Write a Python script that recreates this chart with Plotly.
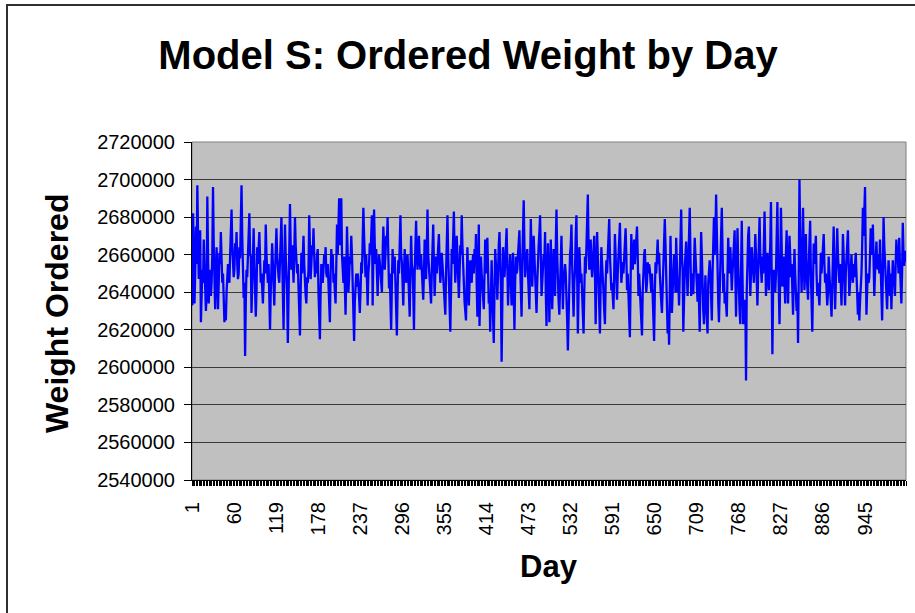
import plotly.graph_objects as go

# Ordered weight per day
weight = [
    2633000,2682000,2660000,2634000,2650000,2675000,2655000,2697000,2670000,2647000,2660000,2673000,2624000,2640000,2652000,2645000,2668000,2655000,2642000,2630000,
    2638000,2691000,2660000,2634000,2648000,2652000,2638000,2645000,2660000,2696000,2665000,2640000,2631000,2648000,2664000,2650000,2631000,2645000,2661000,2655000,
    2672000,2658000,2645000,2650000,2635000,2624000,2630000,2625000,2640000,2648000,2655000,2650000,2645000,2660000,2670000,2684000,2665000,2655000,2648000,2652000,
    2666000,2660000,2672000,2655000,2647000,2650000,2664000,2658000,2675000,2697000,2670000,2650000,2637000,2645000,2606000,2635000,2652000,2648000,2659000,2665000,
    2682000,2660000,2659000,2629000,2645000,2660000,2674000,2655000,2643000,2627000,2640000,2664000,2655000,2665000,2672000,2658000,2645000,2650000,2640000,2634000,
    2645000,2657000,2650000,2676000,2660000,2652000,2645000,2655000,2638000,2620000,2640000,2652000,2666000,2655000,2645000,2633000,2650000,2660000,2674000,2660000,
    2652000,2648000,2645000,2655000,2665000,2680000,2660000,2640000,2620000,2650000,2676000,2660000,2652000,2640000,2613000,2640000,2665000,2687000,2665000,2652000,
    2665000,2655000,2645000,2660000,2680000,2665000,2656000,2650000,2655000,2645000,2630000,2617000,2640000,2661000,2650000,2660000,2670000,2655000,2640000,2638000,
    2634000,2648000,2645000,2652000,2681000,2660000,2647000,2655000,2665000,2660000,2674000,2660000,2648000,2655000,2650000,2660000,2663000,2640000,2630000,2615000,
    2640000,2655000,2650000,2645000,2652000,2660000,2655000,2664000,2650000,2648000,2655000,2640000,2635000,2624000,2650000,2663000,2655000,2660000,2645000,2650000,
    2640000,2634000,2655000,2676000,2660000,2682000,2690000,2665000,2680000,2690000,2660000,2652000,2645000,2659000,2640000,2628000,2650000,2675000,2660000,2640000,
    2648000,2659000,2655000,2670000,2660000,2640000,2625000,2614000,2635000,2641000,2650000,2643000,2650000,2645000,2638000,2629000,2640000,2656000,2650000,2665000,
    2685000,2670000,2655000,2648000,2660000,2645000,2633000,2650000,2655000,2666000,2660000,2670000,2681000,2633000,2660000,2684000,2665000,2655000,2663000,2650000,
    2638000,2652000,2660000,2656000,2650000,2645000,2640000,2660000,2675000,2665000,2652000,2660000,2670000,2665000,2680000,2660000,2642000,2650000,2635000,2620000,
    2645000,2663000,2655000,2650000,2659000,2645000,2630000,2617000,2640000,2657000,2650000,2665000,2681000,2660000,2656000,2645000,2633000,2650000,2663000,2655000,
    2645000,2654000,2660000,2650000,2640000,2627000,2650000,2670000,2655000,2652000,2640000,2620000,2650000,2665000,2678000,2660000,2652000,2660000,2670000,2658000,
    2652000,2660000,2650000,2645000,2636000,2650000,2668000,2655000,2647000,2663000,2684000,2660000,2652000,2645000,2640000,2634000,2650000,2660000,2676000,2655000,
    2638000,2650000,2659000,2650000,2660000,2665000,2671000,2655000,2645000,2652000,2661000,2655000,2648000,2640000,2635000,2628000,2650000,2665000,2681000,2660000,
    2645000,2630000,2619000,2640000,2663000,2655000,2670000,2683000,2660000,2645000,2655000,2670000,2660000,2650000,2637000,2650000,2665000,2660000,2681000,2665000,
    2650000,2640000,2635000,2630000,2625000,2645000,2664000,2650000,2633000,2645000,2657000,2650000,2645000,2655000,2660000,2650000,2663000,2655000,2671000,2645000,
    2627000,2650000,2676000,2622000,2640000,2659000,2650000,2645000,2640000,2631000,2650000,2668000,2660000,2650000,2669000,2655000,2634000,2640000,2619000,2640000,
    2657000,2640000,2630000,2613000,2640000,2663000,2655000,2650000,2636000,2655000,2665000,2672000,2655000,2643000,2603000,2630000,2664000,2655000,2648000,2655000,
    2665000,2674000,2655000,2633000,2645000,2652000,2660000,2645000,2633000,2650000,2661000,2640000,2620000,2645000,2659000,2650000,2652000,2660000,2665000,2673000,
    2655000,2640000,2627000,2655000,2670000,2689000,2665000,2648000,2655000,2660000,2663000,2650000,2640000,2631000,2655000,2679000,2660000,2643000,2655000,2670000,
    2660000,2645000,2635000,2629000,2645000,2659000,2665000,2672000,2681000,2660000,2638000,2645000,2652000,2660000,2656000,2672000,2640000,2622000,2650000,2666000,
    2650000,2624000,2645000,2668000,2650000,2631000,2645000,2663000,2650000,2638000,2665000,2684000,2660000,2643000,2635000,2628000,2645000,2660000,2670000,2650000,
    2631000,2645000,2650000,2655000,2650000,2640000,2625000,2609000,2635000,2652000,2660000,2665000,2676000,2655000,2640000,2627000,2645000,2652000,2670000,2681000,
    2650000,2618000,2640000,2664000,2655000,2645000,2650000,2635000,2625000,2618000,2640000,2659000,2650000,2670000,2685000,2692000,2665000,2652000,2660000,2668000,
    2655000,2648000,2655000,2660000,2670000,2650000,2623000,2650000,2672000,2660000,2647000,2635000,2618000,2645000,2664000,2655000,2650000,2640000,2630000,2623000,
    2645000,2657000,2650000,2660000,2670000,2679000,2660000,2650000,2641000,2645000,2635000,2631000,2650000,2671000,2660000,2648000,2636000,2650000,2660000,2665000,
    2677000,2660000,2645000,2650000,2656000,2650000,2660000,2665000,2674000,2660000,2641000,2650000,2640000,2625000,2616000,2645000,2671000,2660000,2652000,2660000,
    2668000,2655000,2660000,2665000,2675000,2660000,2638000,2650000,2640000,2630000,2625000,2617000,2640000,2652000,2660000,2663000,2650000,2640000,2645000,2656000,
    2650000,2655000,2652000,2645000,2640000,2650000,2635000,2625000,2614000,2640000,2656000,2650000,2660000,2668000,2655000,2661000,2650000,2645000,2635000,2629000,
    2645000,2652000,2665000,2679000,2665000,2647000,2640000,2618000,2630000,2612000,2640000,2670000,2650000,2629000,2640000,2652000,2660000,2655000,2640000,2669000,
    2650000,2640000,2645000,2633000,2650000,2665000,2684000,2660000,2652000,2619000,2640000,2652000,2660000,2667000,2650000,2638000,2655000,2670000,2685000,2660000,
    2638000,2650000,2645000,2639000,2655000,2669000,2660000,2650000,2640000,2635000,2650000,2630000,2619000,2645000,2672000,2660000,2640000,2630000,2623000,2640000,
    2649000,2635000,2625000,2618000,2645000,2652000,2657000,2650000,2640000,2625000,2650000,2665000,2680000,2660000,2670000,2692000,2665000,2648000,2635000,2624000,
    2645000,2659000,2670000,2685000,2665000,2640000,2650000,2634000,2640000,2630000,2627000,2650000,2669000,2657000,2650000,2664000,2655000,2641000,2650000,2660000,
    2665000,2673000,2650000,2627000,2650000,2674000,2655000,2638000,2630000,2623000,2650000,2678000,2650000,2623000,2636000,2623000,2636000,2593000,2640000,2660000,
    2670000,2675000,2655000,2638000,2650000,2664000,2655000,2652000,2645000,2660000,2671000,2660000,2645000,2633000,2650000,2665000,2680000,2660000,2652000,2645000,
    2659000,2650000,2665000,2683000,2660000,2638000,2650000,2661000,2650000,2641000,2655000,2665000,2688000,2650000,2607000,2640000,2652000,2645000,2640000,2650000,
    2665000,2688000,2660000,2640000,2623000,2650000,2685000,2665000,2643000,2650000,2659000,2645000,2634000,2660000,2673000,2650000,2634000,2655000,2670000,2660000,
    2648000,2655000,2640000,2628000,2650000,2663000,2650000,2640000,2630000,2640000,2613000,2650000,2700000,2670000,2652000,2640000,2660000,2685000,2660000,2641000,
    2655000,2671000,2650000,2645000,2636000,2655000,2665000,2678000,2650000,2630000,2619000,2645000,2666000,2655000,2660000,2670000,2650000,2638000,2645000,2640000,
    2633000,2645000,2661000,2650000,2660000,2665000,2671000,2655000,2645000,2650000,2640000,2633000,2640000,2659000,2650000,2645000,2635000,2627000,2640000,2660000,
    2675000,2650000,2631000,2645000,2660000,2674000,2660000,2652000,2645000,2655000,2640000,2633000,2650000,2671000,2660000,2645000,2633000,2650000,2657000,2665000,
    2673000,2655000,2638000,2645000,2652000,2660000,2650000,2645000,2655000,2648000,2655000,2661000,2650000,2640000,2628000,2640000,2625000,2635000,2641000,2650000,
    2665000,2685000,2670000,2680000,2696000,2660000,2628000,2641000,2650000,2645000,2648000,2660000,2674000,2665000,2660000,2676000,2655000,2638000,2650000,2660000,
    2667000,2655000,2652000,2660000,2650000,2668000,2655000,2640000,2625000,2650000,2680000,2665000,2657000,2650000,2645000,2631000,2645000,2657000,2650000,2638000,
    2650000,2631000,2645000,2657000,2650000,2645000,2638000,2655000,2668000,2660000,2659000,2650000,2669000,2655000,2645000,2634000,2650000,2677000,2660000,2654000,
    2662000,2656000,
]
days = list(range(1, len(weight) + 1))

x_tick_labels = ["1", "60", "119", "178", "237", "296", "355", "414", "473",
                 "532", "591", "650", "709", "768", "827", "886", "945"]
y_ticks = [2540000, 2560000, 2580000, 2600000, 2620000, 2640000, 2660000,
           2680000, 2700000, 2720000]

title_text = "Model S: Ordered Weight by Day"
x_title = "Day"
y_title = "Weight Ordered"

FONT = "Liberation Sans, Arial, sans-serif"

fig = go.Figure()
fig.add_trace(go.Scatter(
    x=days, y=weight, mode="lines",
    line=dict(color="#0000FF", width=2.3),
    hoverinfo="x+y", showlegend=False,
))

fig.update_layout(
    width=915, height=613,
    margin=dict(l=192, r=9, t=142, b=133, autoexpand=False),
    paper_bgcolor="white",
    plot_bgcolor="#C0C0C0",
    font=dict(family=FONT, color="black"),
    title=dict(text="<b>" + title_text + "</b>", x=468 / 915, xref="container",
               y=1 - 55 / 613, yref="container", xanchor="center", yanchor="middle",
               font=dict(size=40, family=FONT, color="black")),
    showlegend=False,
)

fig.update_xaxes(
    range=[0.5, len(weight) + 0.5],
    tickmode="array",
    tickvals=[int(t) for t in x_tick_labels],
    ticktext=x_tick_labels,
    tickangle=-90,
    ticks="",
    ticklabelstandoff=13,
    tickfont=dict(size=20, family=FONT, color="black"),
    showgrid=False, zeroline=False,
    showline=True, linecolor="black", linewidth=1,
    minor=dict(ticks="outside", ticklen=5, tickcolor="black", tickwidth=1,
               tick0=0.5, dtick=2, showgrid=False),
)

fig.update_yaxes(
    range=[y_ticks[0], y_ticks[-1]],
    tickmode="array",
    tickvals=y_ticks,
    ticktext=[str(v) for v in y_ticks],
    ticks="outside", ticklen=7, tickcolor="black", tickwidth=1,
    ticklabelstandoff=5,
    tickfont=dict(size=20, family=FONT, color="black"),
    showgrid=True, gridcolor="#3a3a3a", gridwidth=1,
    zeroline=False,
    showline=True, linecolor="black", linewidth=1,
)

# plot-area border (right side grey) and outer chart border
fig.add_shape(type="rect", xref="paper", yref="paper", x0=0, y0=0, x1=1, y1=1,
              line=dict(color="#808080", width=1), layer="below")
fig.add_shape(type="rect", xref="paper", yref="paper",
              x0=(7 - 192) / 714, x1=(930 - 192) / 714,
              y0=(480 - 630) / 338, y1=(480 - 5) / 338,
              line=dict(color="#303030", width=2), layer="above")

fig.add_annotation(text="<b>" + y_title + "</b>", xref="paper", yref="paper",
                   x=(57 - 192) / 714, y=(480 - 314) / 338, textangle=-90,
                   showarrow=False, xanchor="center", yanchor="middle",
                   font=dict(size=32, family=FONT, color="black"))
fig.add_annotation(text="<b>" + x_title + "</b>", xref="paper", yref="paper",
                   x=(549 - 192) / 714, y=(480 - 566) / 338,
                   showarrow=False, xanchor="center", yanchor="middle",
                   font=dict(size=31, family=FONT, color="black"))

fig.write_html("out.html", post_script="document.body.style.margin='0';",
               config={"displayModeBar": False})
